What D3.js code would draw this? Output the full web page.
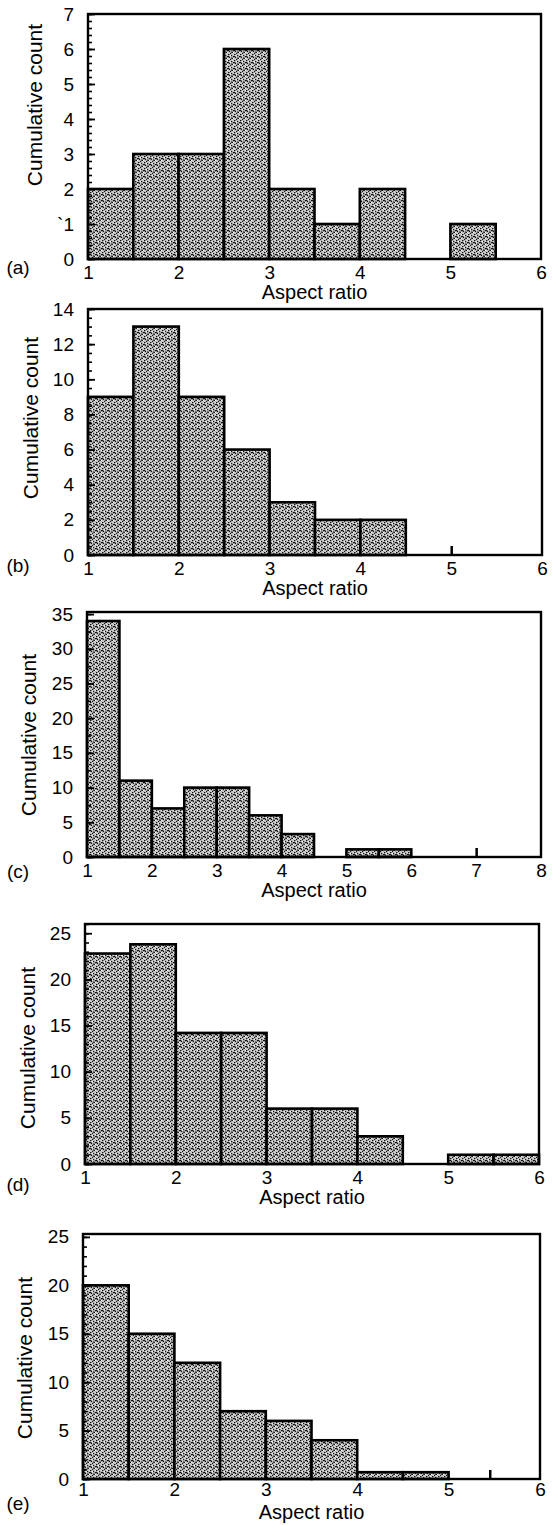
<!DOCTYPE html>
<html>
<head>
<meta charset="utf-8">
<script src="https://cdn.jsdelivr.net/npm/d3@7"></script>
<style>
  body { margin: 0; background: #fff; }
  svg { display: block; }
  text { font-family: "Liberation Sans", Arial, sans-serif; fill: #000; }
</style>
</head>
<body>
<script>
// bins are 0.5 wide starting at aspect ratio 1
var binStart = 1;
var binWidth = 0.5;

var countsA = [2, 3, 3, 6, 2, 1, 2, 0, 1, 0];
var countsB = [9, 13, 9, 6, 3, 2, 2, 0, 0, 0];
var countsC = [34, 11, 7, 10, 10, 6, 3.3, 0, 1.1, 1.1, 0, 0, 0, 0];
var countsD = [22.8, 23.8, 14.2, 14.2, 6, 6, 3, 0, 1, 1];
var countsE = [20, 15, 12, 7, 6, 4, 0.7, 0.7, 0, 0];

var panelLabels = ['(a)', '(b)', '(c)', '(d)', '(e)'];
var xMax = [6, 6, 8, 6, 6];
var yMax = [7, 14, 35.3, 26, 25.3];

var xTicks6 = [1, 2, 3, 4, 5, 6];
var xTicks8 = [1, 2, 3, 4, 5, 6, 7, 8];
var yTicksA = [0, 1, 2, 3, 4, 5, 6, 7];
var yLabelsA = ['0', '`1', '2', '3', '4', '5', '6', '7'];
var yTicksB = [0, 2, 4, 6, 8, 10, 12, 14];
var yTicks5 = [0, 5, 10, 15, 20, 25];
var yTicksC = [0, 5, 10, 15, 20, 25, 30, 35];
var minorStep = [0.2, 0.5, 2.5, 1, 1];

// odd single tick marks left on the bottom axis
var strayTicks = [null, 5, 7, null, 5.45];

var xTitle = 'Aspect ratio';
var yTitle = 'Cumulative count';

var allCounts = [countsA, countsB, countsC, countsD, countsE];
var allXTicks = [xTicks6, xTicks6, xTicks8, xTicks6, xTicks6];
var allYTicks = [yTicksA, yTicksB, yTicksC, yTicks5, yTicks5];

// frame geometry of each panel in page pixels
var layout = [
  { left: 88, right: 541, top: 14, bottom: 259, titleX: 35, titleY: 105, labY: 8, pad: 7, tY: 40 },
  { left: 88, right: 542, top: 309, bottom: 555, titleX: 31, titleY: 418, labY: 10, pad: 7, tY: 40 },
  { left: 87, right: 541, top: 612, bottom: 857, titleX: 29, titleY: 735, labY: 14, pad: 7, tY: 40 },
  { left: 85, right: 539, top: 924, bottom: 1164, titleX: 28, titleY: 1048, labY: 20, pad: 7, tY: 40 },
  { left: 83, right: 540, top: 1234, bottom: 1479, titleX: 25, titleY: 1358, labY: 24, pad: 4, tY: 40 }
];

var svg = d3.select('body').append('svg')
  .attr('width', 553)
  .attr('height', 1525);

// stippled fill for the bars
var pat = svg.append('defs').append('pattern')
  .attr('id', 'stipple')
  .attr('patternUnits', 'userSpaceOnUse')
  .attr('width', 6)
  .attr('height', 6);
pat.append('rect').attr('width', 6).attr('height', 6).attr('fill', '#b8b8b8');
[[0, 0], [3, 1], [1, 3], [4, 4], [5, 2], [2, 5], [0, 2], [3, 3.5]].forEach(function (p) {
  pat.append('rect')
    .attr('x', p[0]).attr('y', p[1])
    .attr('width', 1.4).attr('height', 1.2)
    .attr('fill', '#111');
});
[[1.5, 1], [4.5, 0.5], [2, 2.5], [5, 4], [0.5, 4.5], [3.5, 5.2]].forEach(function (p) {
  pat.append('rect')
    .attr('x', p[0]).attr('y', p[1])
    .attr('width', 1.2).attr('height', 1)
    .attr('fill', '#fff');
});

layout.forEach(function (L, i) {
  var counts = allCounts[i];

  var x = d3.scaleLinear().domain([1, xMax[i]]).range([L.left, L.right]);
  var y = d3.scaleLinear().domain([0, yMax[i]]).range([L.bottom, L.top]);

  var g = svg.append('g');

  var bins = counts.map(function (c, k) {
    return { x0: binStart + k * binWidth, x1: binStart + (k + 1) * binWidth, n: c };
  }).filter(function (d) { return d.n > 0; });

  g.selectAll('.bar')
    .data(bins)
    .enter()
    .append('rect')
      .attr('class', 'bar')
      .attr('x', function (d) { return x(d.x0); })
      .attr('width', function (d) { return x(d.x1) - x(d.x0); })
      .attr('y', function (d) { return y(d.n); })
      .attr('height', function (d) { return y(0) - y(d.n); })
      .attr('fill', 'url(#stipple)')
      .attr('stroke', '#000')
      .attr('stroke-width', 2.6);

  // frame
  g.append('rect')
    .attr('x', L.left)
    .attr('y', L.top)
    .attr('width', L.right - L.left)
    .attr('height', L.bottom - L.top)
    .attr('fill', 'none')
    .attr('stroke', '#000')
    .attr('stroke-width', 2.4);

  // minor ticks on the left axis, pointing in
  var minor = d3.range(0, yMax[i] + 1e-6, minorStep[i]);
  var yMinor = g.append('g')
    .attr('transform', 'translate(' + L.left + ',0)')
    .call(d3.axisLeft(y).tickValues(minor).tickSize(-4).tickFormat(''));
  yMinor.select('.domain').remove();
  yMinor.selectAll('line').attr('stroke-width', 1.6);

  // major ticks with labels
  var yAxis = d3.axisLeft(y)
    .tickValues(allYTicks[i])
    .tickSize(-7)
    .tickPadding(14)
    .tickFormat(d3.format('d'));
  if (i === 0) yAxis.tickFormat(function (d, k) { return yLabelsA[k]; });
  var yg = g.append('g')
    .attr('transform', 'translate(' + L.left + ',0)')
    .call(yAxis);
  yg.select('.domain').remove();
  yg.selectAll('line').attr('stroke-width', 1.8);
  yg.selectAll('text').attr('font-size', 19).attr('font-family', null);

  var xg = g.append('g')
    .attr('transform', 'translate(0,' + L.bottom + ')')
    .call(d3.axisBottom(x).tickValues(allXTicks[i]).tickSize(0).tickPadding(L.pad)
      .tickFormat(d3.format('d')));
  xg.select('.domain').remove();
  xg.selectAll('text').attr('font-size', 19).attr('font-family', null);

  if (strayTicks[i] !== null) {
    var sg = g.append('g')
      .attr('transform', 'translate(0,' + L.bottom + ')')
      .call(d3.axisBottom(x).tickValues([strayTicks[i]]).tickSize(-9).tickFormat(''));
    sg.select('.domain').remove();
    sg.selectAll('line').attr('stroke-width', 2.5);
  }

  g.append('text')
    .attr('x', (L.left + L.right) / 2)
    .attr('y', L.bottom + L.tY)
    .attr('text-anchor', 'middle')
    .attr('font-size', 20)
    .text(xTitle);

  g.append('text')
    .attr('transform', 'translate(' + L.titleX + ',' + L.titleY + ') rotate(-90)')
    .attr('text-anchor', 'middle')
    .attr('dy', '0.35em')
    .attr('font-size', 21)
    .text(yTitle);

  g.append('text')
    .attr('x', 18)
    .attr('y', L.bottom + L.labY)
    .attr('dy', '0.35em')
    .attr('text-anchor', 'middle')
    .attr('font-size', 19)
    .text(panelLabels[i]);
});
</script>
</body>
</html>
